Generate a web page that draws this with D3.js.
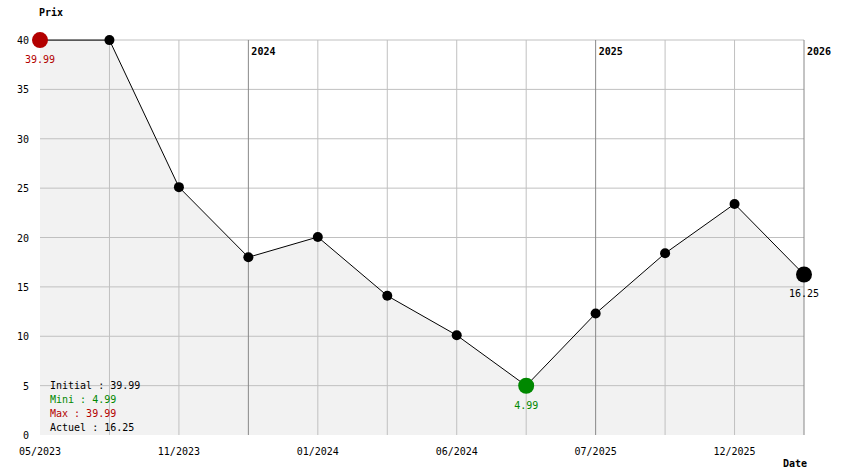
<!DOCTYPE html>
<html><head><meta charset="utf-8">
<script src="https://cdn.jsdelivr.net/npm/d3@7"></script>
<style>body{margin:0;background:#fff}text{font-family:"DejaVu Sans Mono",monospace;font-size:10px}</style>
</head><body><svg id="c" width="844" height="474"></svg>
<script>
const prices = [39.99, 39.99, 25.1, 18.0, 20.05, 14.1, 10.1, 4.99, 12.3, 18.4, 23.4, 16.25];
const tickIdx = [0, 2, 4, 6, 8, 10];
const tickLabels = ["05/2023", "11/2023", "01/2024", "06/2024", "07/2025", "12/2025"];
const yearIdx = [3, 8, 11];
const yearLabels = ["2024", "2025", "2026"];
const yTicks = [0, 5, 10, 15, 20, 25, 30, 35, 40];

const svg = d3.select("#c");
const x = d3.scaleLinear().domain([0, prices.length - 1]).range([40, 804]);
const y = d3.scaleLinear().domain([0, 40]).range([435, 40]);

// fill
svg.append("path").datum(prices)
  .attr("fill", "#f2f2f2")
  .attr("d", d3.area().x((d, i) => x(i)).y0(y(0)).y1(d => y(d)));

// grid
svg.selectAll(".hg").data(yTicks.slice(1)).enter().append("line")
  .attr("x1", 40).attr("x2", 804).attr("y1", d => y(d)).attr("y2", d => y(d))
  .attr("stroke", "#c0c0c0");
svg.selectAll(".vg").data(d3.range(1, prices.length)).enter().append("line")
  .attr("x1", d => x(d)).attr("x2", d => x(d)).attr("y1", y(40)).attr("y2", y(0))
  .attr("stroke", d => yearIdx.includes(d) ? "#888" : "#c0c0c0");
yearIdx.forEach((d, i) => svg.append("text").attr("x", x(d) + 3).attr("y", 55)
  .attr("font-weight", "bold").attr("font-size", "11px").text(yearLabels[i]));

// axes labels
yTicks.forEach(t => svg.append("text").attr("x", 29).attr("y", y(t) + 4)
  .attr("text-anchor", "end").text(t));
tickIdx.forEach((d, i) => svg.append("text").attr("x", x(d)).attr("y", 455)
  .attr("text-anchor", "middle").text(tickLabels[i]));
svg.append("text").attr("x", 39).attr("y", 16).attr("font-weight", "bold").attr("font-size", "11px").text("Prix");
svg.append("text").attr("x", 783).attr("y", 467).attr("font-weight", "bold").attr("font-size", "11px").text("Date");

// line
svg.append("path").datum(prices).attr("fill", "none").attr("stroke", "#000")
  .attr("d", d3.line().x((d, i) => x(i)).y(d => y(d)));

const minI = prices.indexOf(d3.min(prices)), last = prices.length - 1;
svg.selectAll(".pt").data(prices).enter().append("circle")
  .attr("cx", (d, i) => x(i)).attr("cy", d => y(d))
  .attr("r", (d, i) => (i === 0 || i === minI || i === last) ? 8 : 5)
  .attr("fill", (d, i) => i === 0 ? "#b30000" : i === minI ? "#008800" : "#000");

svg.append("text").attr("x", x(0)).attr("y", y(prices[0]) + 23).attr("text-anchor", "middle")
  .attr("fill", "#b30000").text("39.99");
svg.append("text").attr("x", x(minI)).attr("y", y(prices[minI]) + 23).attr("text-anchor", "middle")
  .attr("fill", "#008800").text("4.99");
svg.append("text").attr("x", x(last)).attr("y", y(prices[last]) + 22).attr("text-anchor", "middle")
  .text("16.25");

const legend = [["Initial : 39.99", "#000"], ["Mini : 4.99", "#008800"], ["Max : 39.99", "#b30000"], ["Actuel : 16.25", "#000"]];
legend.forEach((l, i) => svg.append("text").attr("x", 50).attr("y", 389 + i * 14)
  .attr("fill", l[1]).text(l[0]));
</script></body></html>
